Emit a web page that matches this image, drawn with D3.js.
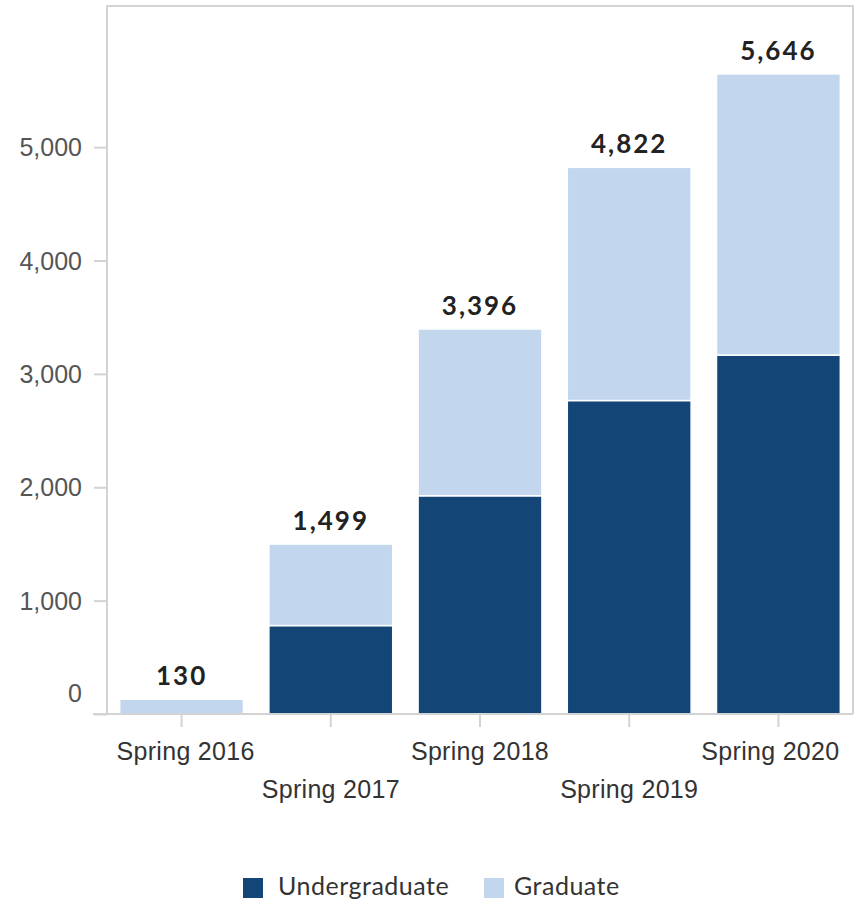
<!DOCTYPE html>
<html>
<head>
<meta charset="utf-8">
<script src="https://cdn.jsdelivr.net/npm/d3@7"></script>
<style>
  body { margin: 0; background: #fff; }
  svg { font-family: Lato, "Open Sans", sans-serif; }
</style>
</head>
<body>
<svg id="chart" width="856" height="901"></svg>
<script>
// 数据
const terms = ["Spring 2016", "Spring 2017", "Spring 2018", "Spring 2019", "Spring 2020"];
const undergrad = [0, 780, 1925, 2765, 3166];
const totals = [130, 1499, 3396, 4822, 5646];
const graduate = totals.map((t, i) => t - undergrad[i]);
const yTicks = [0, 1000, 2000, 3000, 4000, 5000];
const seriesNames = ["Undergraduate", "Graduate"];
const colors = ["#134577", "#c2d7ee"];

const svg = d3.select("#chart");
const plotLeft = 107, plotRight = 853, plotTop = 6, plotBottom = 714;

const x = d3.scaleBand().domain(terms).range([plotLeft, plotRight])
  .paddingInner(0.17).paddingOuter(0.085);
const y = d3.scaleLinear().domain([0, 6245]).range([plotBottom, plotTop]);

const rows = terms.map((t, i) => ({ term: t, Undergraduate: undergrad[i], Graduate: graduate[i] }));
const stacked = d3.stack().keys(seriesNames)(rows);

// 边框
svg.append("path")
  .attr("d", `M${plotLeft},${plotBottom} V${plotTop} H${plotRight} V${plotBottom}`)
  .attr("fill", "none")
  .attr("stroke", "#d3d3d3")
  .attr("stroke-width", 2);

// 柱子
svg.append("g").selectAll("g")
  .data(stacked)
  .join("g")
  .attr("fill", (d, i) => colors[i])
  .selectAll("rect")
  .data(d => d.filter(p => p[1] > p[0]))
  .join("rect")
  .attr("x", d => x(d.data.term))
  .attr("width", x.bandwidth())
  .attr("y", d => y(d[1]))
  .attr("height", d => y(d[0]) - y(d[1]))
  .attr("stroke", "#fff")
  .attr("stroke-width", 1.5);

// y轴
const yAxis = svg.append("g")
  .attr("transform", `translate(${plotLeft},0)`)
  .call(d3.axisLeft(y).tickValues(yTicks).tickFormat(d3.format(",")).tickSize(13).tickPadding(12));
yAxis.select(".domain").remove();
yAxis.selectAll("line").attr("stroke", "#d3d3d3").attr("stroke-width", 2);
yAxis.selectAll("text")
  .attr("fill", "#555")
  .style("font-size", "25px")
  .attr("dy", (d) => d === 0 ? "-0.5em" : "0.34em");

// x轴（首尾标签稍微往里收）
const xAxis = svg.append("g")
  .attr("transform", `translate(0,${plotBottom})`)
  .call(d3.axisBottom(x).tickSize(13).tickSizeOuter(0));
xAxis.select(".domain").attr("d", `M${plotLeft - 14},0H${plotRight}`)
  .attr("stroke", "#d3d3d3").attr("stroke-width", 2);
xAxis.selectAll("line").attr("stroke", "#d3d3d3").attr("stroke-width", 2);
xAxis.selectAll("text")
  .attr("fill", "#333")
  .style("font-size", "25px")
  .style("letter-spacing", "0.3px")
  .attr("y", (d, i) => i % 2 === 0 ? 46 : 84)
  .attr("dx", (d, i) => i === 0 ? 4 : i === terms.length - 1 ? -8 : 0)
  .attr("dy", "0");

// 总数标签
svg.append("g").selectAll("text")
  .data(terms)
  .join("text")
  .attr("x", d => x(d) + x.bandwidth() / 2)
  .attr("y", (d, i) => y(totals[i]) - 14)
  .attr("text-anchor", "middle")
  .attr("fill", "#222")
  .style("font-size", "26px")
  .style("font-weight", "bold")
  .style("letter-spacing", "2px")
  .text((d, i) => d3.format(",")(totals[i]));

// 图例
const legendX = [243, 484];
const legend = svg.append("g").selectAll("g")
  .data(seriesNames)
  .join("g")
  .attr("transform", (d, i) => `translate(${legendX[i]},878)`);
legend.append("rect").attr("width", 20).attr("height", 20).attr("fill", (d, i) => colors[i]);
legend.append("text")
  .attr("x", (d, i) => i === 0 ? 35 : 30)
  .attr("y", 17)
  .attr("fill", "#333")
  .style("font-size", "25px")
  .style("letter-spacing", "0.5px")
  .text(d => d);
</script>
</body>
</html>
